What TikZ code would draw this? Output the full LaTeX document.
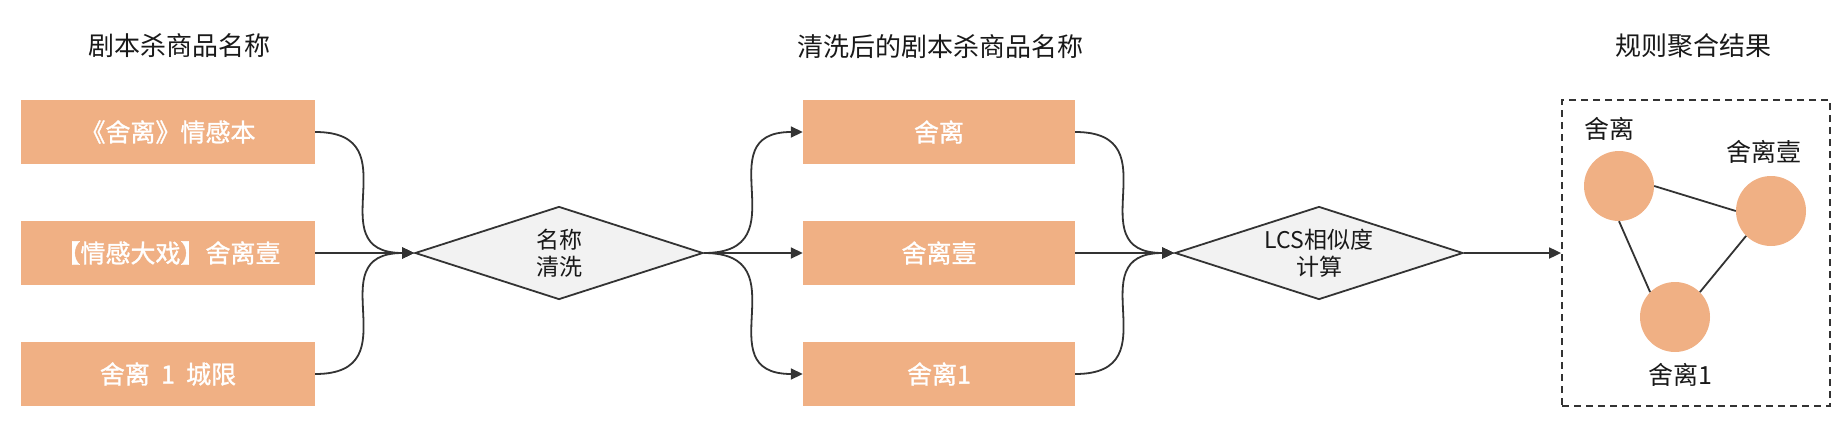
\documentclass[tikz,border=0pt]{standalone}
\usepackage{fontspec}
\setmainfont{Noto Sans CJK SC}
\newfontfamily\cjkbold{Noto Sans CJK SC}[FakeBold=1.2]
\usetikzlibrary{arrows.meta,shapes.geometric}
\definecolor{peach}{HTML}{F0B084}
\definecolor{ink}{HTML}{333333}
\definecolor{dfill}{HTML}{F2F2F2}
\begin{document}
\begin{tikzpicture}[x=1pt,y=-1pt,
  namebox/.style={rectangle,fill=peach,draw=none,minimum width=294pt,minimum height=64pt,inner sep=0pt,
    text=white,font=\cjkbold\fontsize{25}{30}\selectfont},
  cleanbox/.style={namebox,minimum width=272pt},
  decide/.style={diamond,draw=ink,line width=1.8pt,fill=dfill,aspect=3.1,inner sep=0pt,
    minimum width=288pt,minimum height=93pt,align=center,text=black!90,
    font=\fontsize{23}{27}\selectfont},
  title/.style={text=black!90,font=\fontsize{26}{30}\selectfont,inner sep=0pt},
  dot/.style={circle,fill=peach,draw=none,minimum size=70pt,inner sep=0pt},
  dotlabel/.style={text=black!90,font=\fontsize{25}{30}\selectfont,inner sep=0pt},
  flow/.style={draw=ink,line width=1.8pt,-{Triangle[length=12pt,width=11pt]}},
  link/.style={draw=ink,line width=1.8pt}
]
\useasboundingbox (0,0) rectangle (1848,440);

% titles
\node[title] (t1) at (179,46) {剧本杀商品名称};
\node[title] (t2) at (940,47) {清洗后的剧本杀商品名称};
\node[title] (t3) at (1693,46) {规则聚合结果};

% raw names
\node[namebox] (a1) at (168,132) {《舍离》情感本};
\node[namebox] (a2) at (168,253) {【情感大戏】舍离壹};
\node[namebox] (a3) at (168,374) {舍离\ \ 1\ \ 城限};

% decision 1
\node[decide] (d1) at (559,253) {名称\\清洗};

% cleaned names
\node[cleanbox] (b1) at (939,132) {舍离};
\node[cleanbox] (b2) at (939,253) {舍离壹};
\node[cleanbox] (b3) at (939,374) {舍离1};

% decision 2
\node[decide] (d2) at (1319,253) {LCS相似度\\计算};

% result box
\node[draw=ink,line width=1.8pt,dash pattern=on 7pt off 5pt,rectangle,minimum width=268pt,minimum height=306pt,inner sep=0pt] (res) at (1696,253) {};

\node[dot] (c1) at (1619,186) {};
\node[dot] (c2) at (1771,211) {};
\node[dot] (c3) at (1675,317) {};
\node[dotlabel] (l1) at (1609,129) {舍离};
\node[dotlabel] (l2) at (1764,152) {舍离壹};
\node[dotlabel] (l3) at (1680,375) {舍离1};

% connectors: raw -> d1
\draw[flow] (a1.east) .. controls (d1.west |- a1.east) and (a1.east |- d1.west) .. (d1.west);
\draw[flow] (a2.east) -- (d1.west);
\draw[flow] (a3.east) .. controls (d1.west |- a3.east) and (a3.east |- d1.west) .. (d1.west);

% d1 -> cleaned
\draw[flow] (d1.east) .. controls (b1.west |- d1.east) and (d1.east |- b1.west) .. (b1.west);
\draw[flow] (d1.east) -- (b2.west);
\draw[flow] (d1.east) .. controls (b3.west |- d1.east) and (d1.east |- b3.west) .. (b3.west);

% cleaned -> d2
\draw[flow] (b1.east) .. controls (d2.west |- b1.east) and (b1.east |- d2.west) .. (d2.west);
\draw[flow] (b2.east) -- (d2.west);
\draw[flow] (b3.east) .. controls (d2.west |- b3.east) and (b3.east |- d2.west) .. (d2.west);

% d2 -> result
\draw[flow] (d2.east) -- (res.west);

% graph edges
\draw[link] (c1.east) -- (c2.west);
\draw[link] (c1.south) -- (c3.north west);
\draw[link] (c2.south west) -- (c3.north east);
\end{tikzpicture}
\end{document}
